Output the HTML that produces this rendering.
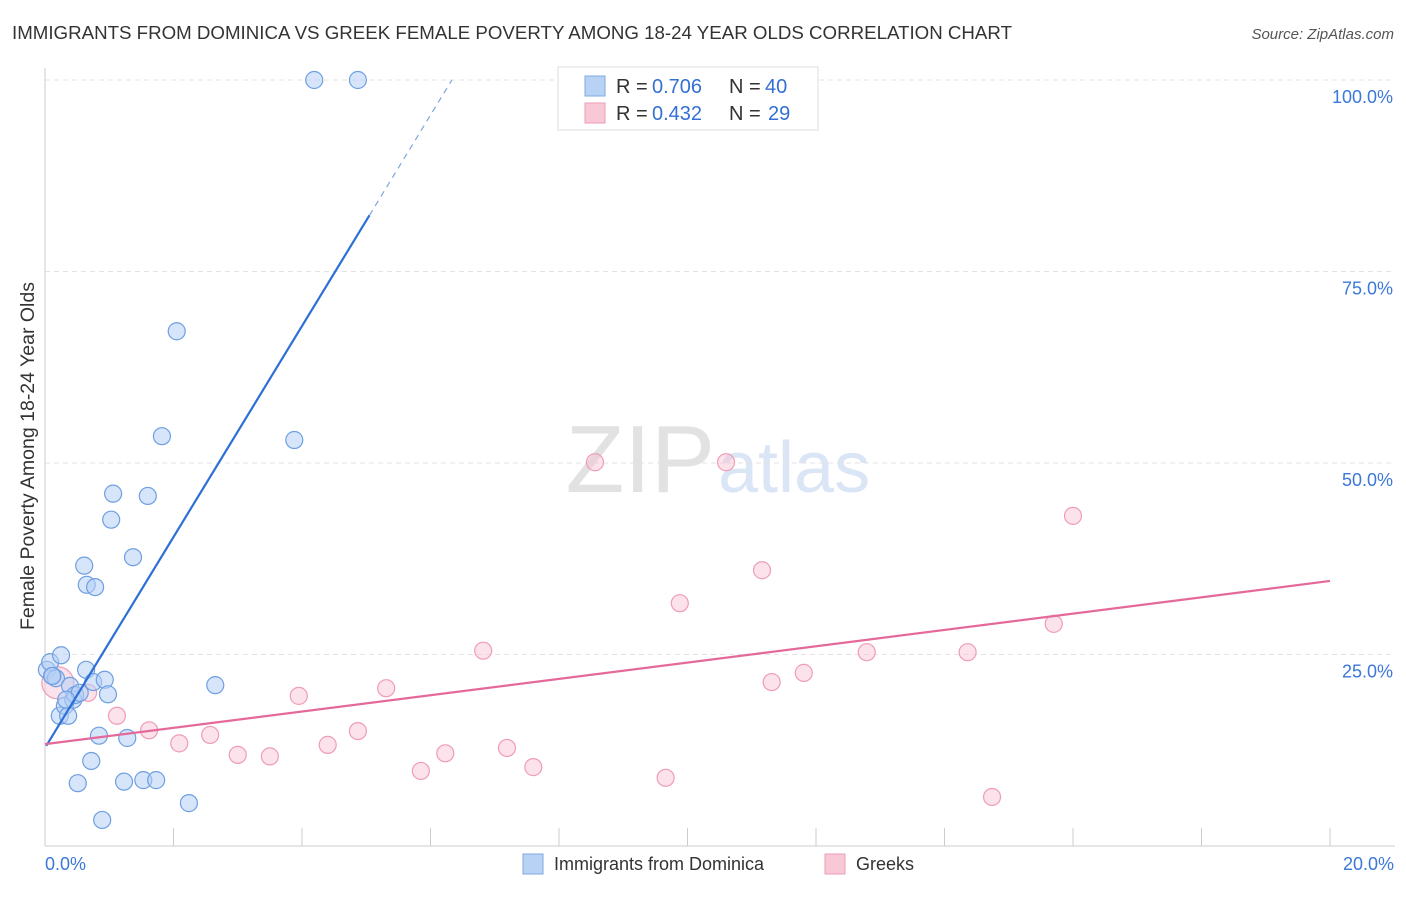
<!DOCTYPE html>
<html><head><meta charset="utf-8"><style>
body{margin:0;background:#fff;font-family:"Liberation Sans",sans-serif;}
svg text{font-family:"Liberation Sans",sans-serif;}
</style></head><body>
<svg id="c" width="1406" height="892">
<text x="12" y="39" font-size="18.5" fill="#333" textLength="1000" lengthAdjust="spacingAndGlyphs">IMMIGRANTS FROM DOMINICA VS GREEK FEMALE POVERTY AMONG 18-24 YEAR OLDS CORRELATION CHART</text>
<text x="1394" y="39" font-size="15" fill="#555" text-anchor="end" font-style="italic">Source: ZipAtlas.com</text>
<text x="715" y="492" font-size="96" fill="#e2e2e2" text-anchor="end" font-family="Liberation Serif">ZIP</text>
<text x="718" y="492" font-size="72" fill="#dae6f6">atlas</text>
<text transform="translate(34,456) rotate(-90)" font-size="19" fill="#333" text-anchor="middle" textLength="348" lengthAdjust="spacingAndGlyphs">Female Poverty Among 18-24 Year Olds</text>
<g id="grid"></g><g id="pts"></g>
<g>
<rect x="558" y="67" width="260" height="63" fill="#fff" stroke="#ddd"/>
<rect x="585" y="76" width="20" height="20" fill="#b8d2f5" stroke="#7fa9e0"/>
<rect x="585" y="103" width="20" height="20" fill="#f9c8d6" stroke="#ee9db5"/>
<text x="616" y="93" font-size="20" fill="#333">R =</text>
<text x="652" y="93" font-size="20" fill="#3470d4">0.706</text>
<text x="729" y="93" font-size="20" fill="#333">N =</text>
<text x="765" y="93" font-size="20" fill="#3470d4">40</text>
<text x="616" y="120" font-size="20" fill="#333">R =</text>
<text x="652" y="120" font-size="20" fill="#3470d4">0.432</text>
<text x="729" y="120" font-size="20" fill="#333">N =</text>
<text x="768" y="120" font-size="20" fill="#3470d4">29</text>
</g>
<g>
<rect x="523" y="854" width="20" height="20" fill="#b8d2f5" stroke="#7fa9e0"/>
<text x="554" y="870" font-size="18" fill="#333">Immigrants from Dominica</text>
<rect x="825" y="854" width="20" height="20" fill="#f9c8d6" stroke="#ee9db5"/>
<text x="856" y="870" font-size="18" fill="#333">Greeks</text>
</g>
</svg>
<script>
const blueX=[0.03,0.08,0.12,0.17,0.23,0.25,0.31,0.36,0.39,0.44,0.47,0.51,0.54,0.61,0.64,0.65,0.72,0.75,0.78,0.84,0.89,0.93,0.98,1.03,1.06,1.23,1.28,1.37,1.53,1.60,1.73,1.82,2.05,2.24,2.65,3.88,4.19,4.87,0.11,0.33];
const blueY=[23.0,24.0,22.2,21.9,17.0,24.9,18.3,17.0,20.9,19.1,19.7,8.2,20.0,36.6,23.0,34.1,11.1,21.4,33.8,14.4,3.4,21.7,19.8,42.6,46.0,8.4,14.1,37.7,8.6,45.7,8.6,53.5,67.2,5.6,21.0,53.0,100,100,22.2,19.1];
const pinkX=[0.67,1.12,1.62,2.09,2.57,3.00,3.50,3.95,4.40,4.87,5.31,5.85,6.23,6.82,7.19,7.60,8.56,9.66,9.88,10.60,11.16,11.31,11.81,12.79,14.36,14.74,15.70,16.00,0.20];
const pinkY=[20.0,17.0,15.1,13.4,14.5,11.9,11.7,19.6,13.2,15.0,20.6,9.8,12.1,25.5,12.8,10.3,50.1,8.9,31.7,50.1,36.0,21.4,22.6,25.3,25.3,6.4,29.0,43.1,21.3];
const yTicks=[25,50,75,100];
const xTickLabels=["0.0%","20.0%"];
const blueFit=[12.8,13.77];
const pinkFit=[13.3,34.6];
const X=v=>45+v/20*1285, Y=v=>846-v/100*766;
const NS="http://www.w3.org/2000/svg";
function mk(t,a,p){const e=document.createElementNS(NS,t);for(const k in a)e.setAttribute(k,a[k]);p.appendChild(e);return e;}
const g=document.getElementById('grid'), P=document.getElementById('pts');
yTicks.forEach(t=>{
 const l=mk('line',{x1:45,x2:1395,y1:Y(t),y2:Y(t),stroke:'#e3e3e3','stroke-dasharray':'5,4'},g);
 
 
 const tx=mk('text',{x:1393,y:Y(t)+23,'font-size':18,fill:'#3b78d8','text-anchor':'end'},g);tx.textContent=t.toFixed(1)+'%';
 
 
});
const ax=mk('line',{x1:45,x2:45,y1:68,y2:846,stroke:'#ccc'},g);


const bx=mk('line',{x1:45,x2:1395,y1:846,y2:846,stroke:'#ccc'},g);


for(let i=0;i<=10;i++){const t=mk('line',{x1:X(i*2),x2:X(i*2),y1:828,y2:846,stroke:'#ccc'},g);
 
 }
[[0,'start',45],[20,'end',1394]].forEach((a,i)=>{const t=mk('text',{x:a[2],y:870,'font-size':18,fill:'#3b78d8','text-anchor':a[1]},g);t.textContent=xTickLabels[i];
 
 });
function circ(x,y,r,f,s,n){const c=mk('circle',{cx:X(x),cy:Y(y),r:r,fill:f,stroke:s,'stroke-width':1.2},P);
 
 }
pinkX.forEach((x,i)=>circ(x,pinkY[i],i==pinkX.length-1?16:8.5,'rgba(248,190,208,0.45)','#ee9db5','greeks-point'));
blueX.forEach((x,i)=>circ(x,blueY[i],8.5,'rgba(180,208,245,0.55)','#6f9fe0','dominica-point'));
const bEnd=(100-blueFit[0])/blueFit[1];
let l=mk('line',{x1:X(0.02),y1:Y(blueFit[0]+blueFit[1]*0.02),x2:X(5.05),y2:Y(blueFit[0]+blueFit[1]*5.05),stroke:'#2d6fd6','stroke-width':2.2},P);


l=mk('line',{x1:X(5.05),y1:Y(blueFit[0]+blueFit[1]*5.05),x2:X(bEnd),y2:Y(100),stroke:'#7fa5e0','stroke-width':1.2,'stroke-dasharray':'6,5'},P);


l=mk('line',{x1:X(0),y1:Y(pinkFit[0]),x2:X(20),y2:Y(pinkFit[1]),stroke:'#e4699a','stroke-width':2.2},P);


</script>
</body></html>
